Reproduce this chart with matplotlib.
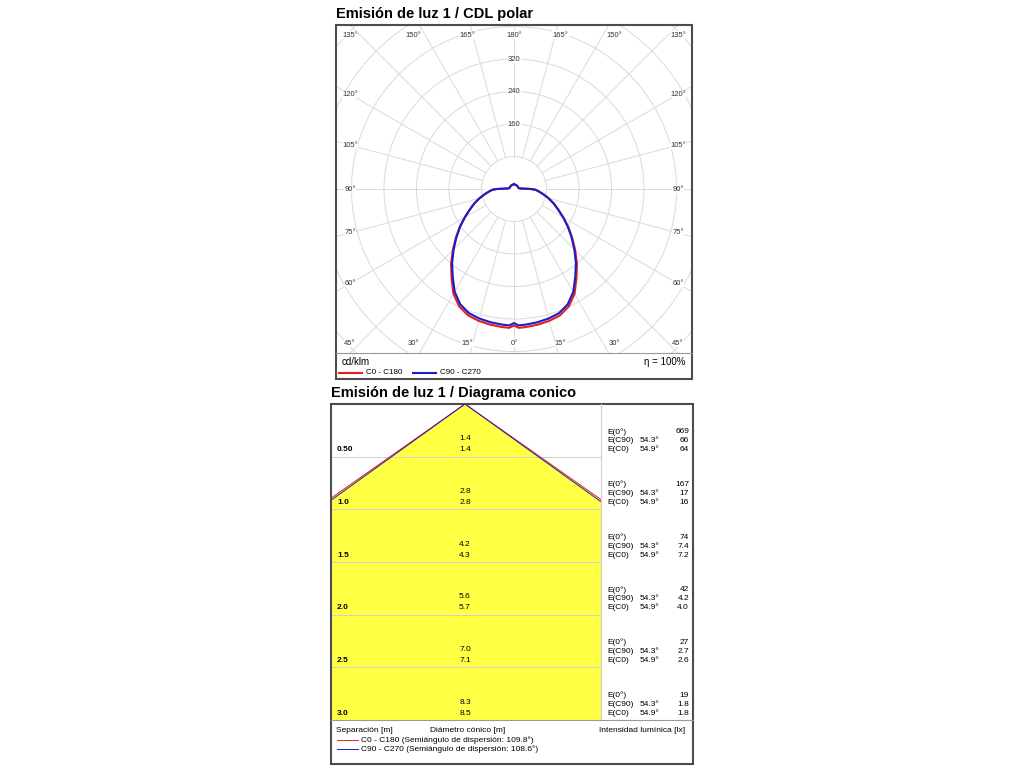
import numpy as np
import matplotlib
matplotlib.use("Agg")
import matplotlib.pyplot as plt
from matplotlib.lines import Line2D
from matplotlib.patches import Rectangle, Circle, Polygon

plt.rcParams['font.family'] = ['Liberation Sans', 'DejaVu Sans']

# Light distribution (cd/klm) vs gamma angle, 0 = straight down
gamma = [0, 2, 5, 10, 15, 20, 25, 30, 35, 40, 45, 50, 55, 60, 65, 70, 75, 80,
         85, 88, 90, 92, 95, 100, 110, 120, 135, 150, 165, 180]
c0_c180 = [336, 342, 341, 339, 336, 331, 319, 298, 268, 241, 213, 187, 163, 140,
           120, 104, 88, 73, 60, 53, 42, 25, 15, 12, 11, 11, 11, 11, 11, 12]
c90_c270 = [330, 336, 335, 333, 330, 325, 313, 292, 263, 237, 210, 185, 162, 140,
            120, 104, 88, 73, 60, 53, 42, 25, 15, 12, 11, 11, 11, 11, 11, 12]
ring_labels = [160, 240, 320]
angle_labels = [0, 15, 30, 45, 60, 75, 90, 105, 120, 135, 150, 165, 180]

# Cone diagram
distances = [0.5, 1.0, 1.5, 2.0, 2.5, 3.0]
dist_labels = ["0.50", "1.0", "1.5", "2.0", "2.5", "3.0"]
diam_c90 = ["1.4", "2.8", "4.2", "5.6", "7.0", "8.3"]
diam_c0 = ["1.4", "2.8", "4.3", "5.7", "7.1", "8.5"]
e_0 = ["669", "167", "74", "42", "27", "19"]
e_c90 = ["66", "17", "7.4", "4.2", "2.7", "1.8"]
e_c0 = ["64", "16", "7.2", "4.0", "2.6", "1.8"]
half_c90 = 54.3
half_c0 = 54.9

RED = "#e41e20"
BLUE = "#1c1cc8"
GRID = "#dadada"
FRAME = "#4d4d4d"


def fx(x):
    return x / 1024


def fy(y):
    return 1 - y / 768


fig = plt.figure(figsize=(10.24, 7.68), dpi=100)

# ---------------- polar chart ----------------
K = 80 / 32.5  # cd/klm per pixel
ax = fig.add_axes([fx(336), fy(353), 356 / 1024, 328 / 768])
ax.set_xlim(-178 * K, 178 * K)
ax.set_ylim(-164 * K, 164 * K)
ax.axis("off")

for r in range(80, 800, 80):
    ax.add_patch(Circle((0, 0), r, fill=False, ec=GRID, lw=0.7))
for a in range(0, 360, 15):
    t = np.radians(a)
    ax.plot([80 * np.sin(t), 900 * np.sin(t)], [-80 * np.cos(t), -900 * np.cos(t)],
            color=GRID, lw=0.7)

for r in ring_labels:
    ax.text(0, r, str(r), fontsize=5.5, ha="center", va="center", color="#333333",
            bbox=dict(fc="white", ec="none", pad=0.3))

W, H, YROW = 164 * K, 174 * K, 154 * K
for a in angle_labels:
    for side in ([1] if a in (0, 180) else [-1, 1]):
        t = np.radians(a)
        dx, dy = side * np.sin(t), -np.cos(t)
        s = min(W / abs(dx) if abs(dx) > 1e-9 else 1e9, H / abs(dy) if abs(dy) > 1e-9 else 1e9)
        px, py = dx * s, dy * s
        if abs(py) > YROW:
            py = np.sign(py) * YROW
        ax.text(px, py, f"{a}°", fontsize=5.5, ha="center", va="center", color="#333333",
                bbox=dict(fc="white", ec="none", pad=0.2), clip_on=False)

g = np.radians(np.array(gamma, dtype=float))
for vals, col in ((c0_c180, RED), (c90_c270, BLUE)):
    v = np.array(vals, dtype=float)
    xs = np.concatenate([-(v * np.sin(g))[::-1], v * np.sin(g)])
    ys = np.concatenate([(-v * np.cos(g))[::-1], -v * np.cos(g)])
    ax.plot(xs, ys, color=col, lw=1.5, solid_joinstyle="round")

fig.add_artist(Rectangle((fx(336), fy(379)), 356 / 1024, 354 / 768, transform=fig.transFigure,
                         fill=False, ec=FRAME, lw=1.5))
fig.add_artist(Line2D([fx(336), fx(692)], [fy(353), fy(353)], color="#9a9a9a", lw=0.8))
fig.text(fx(336), fy(14), "Emisión de luz 1 / CDL polar", fontsize=10.5, fontweight="bold", va="center")
fig.text(fx(342), fy(362), "cd/klm", fontsize=7, va="center")
fig.text(fx(685), fy(362), "η = 100%", fontsize=7, va="center", ha="right")
fig.add_artist(Line2D([fx(339), fx(362)], [fy(373), fy(373)], color=RED, lw=1.5))
fig.text(fx(366), fy(373), "C0 - C180", fontsize=5.8, va="center")
fig.add_artist(Line2D([fx(413), fx(436)], [fy(373), fy(373)], color=BLUE, lw=1.5))
fig.text(fx(440), fy(373), "C90 - C270", fontsize=5.8, va="center")

# ---------------- cone diagram ----------------
PXM = 316 / 3.0  # pixels per metre
axc = fig.add_axes([fx(331), fy(720), 270 / 1024, 316 / 768])
axc.set_xlim((331 - 465) / PXM, (601 - 465) / PXM)
axc.set_ylim(3.0, 0)
axc.axis("off")

tc0 = np.tan(np.radians(half_c0))
tc90 = np.tan(np.radians(half_c90))
axc.add_patch(Polygon([(0, 0), (-3 * tc0, 3), (3 * tc0, 3)], closed=True, fc="#ffff44", ec="none"))
for d in distances:
    axc.axhline(d, color="#cfcfcf", lw=0.7)
axc.plot([-3 * tc0, 0, 3 * tc0], [3, 0, 3], color=RED, lw=0.7)
axc.plot([-3 * tc90, 0, 3 * tc90], [3, 0, 3], color=BLUE, lw=0.7)

for d, lab, a90, a0 in zip(distances, dist_labels, diam_c90, diam_c0):
    axc.text((337 - 465) / PXM, d - 0.064, lab, fontsize=6, fontweight="bold", va="center")
    axc.text(0, d - 0.170, a90, fontsize=6, ha="center", va="center")
    axc.text(0, d - 0.064, a0, fontsize=6, ha="center", va="center")

axt = fig.add_axes([fx(601), fy(720), 92 / 1024, 316 / 768])
axt.set_xlim(0, 92)
axt.set_ylim(3.0, 0)
axt.axis("off")
for d, v0, v90, vc0 in zip(distances, e_0, e_c90, e_c0):
    rows = [("E(0°)", "", v0, d - 0.235), ("E(C90)", f"{half_c90}°", v90, d - 0.150),
            ("E(C0)", f"{half_c0}°", vc0, d - 0.064)]
    for name, ang, val, yy in rows:
        axt.text(6, yy, name, fontsize=6, va="center")
        axt.text(39, yy, ang, fontsize=6, va="center")
        axt.text(88, yy, val, fontsize=6, va="center", ha="right")

fig.add_artist(Line2D([fx(601), fx(601)], [fy(404), fy(720)], color="#cfcfcf", lw=0.8))
fig.add_artist(Line2D([fx(331), fx(693)], [fy(720), fy(720)], color="#9a9a9a", lw=0.8))
fig.add_artist(Rectangle((fx(331), fy(764)), 362 / 1024, 360 / 768, transform=fig.transFigure,
                         fill=False, ec=FRAME, lw=1.5))
fig.text(fx(331), fy(393), "Emisión de luz 1 / Diagrama conico", fontsize=10.5, fontweight="bold",
         va="center")
fig.text(fx(336), fy(730), "Separación [m]", fontsize=6, va="center")
fig.text(fx(430), fy(730), "Diámetro cónico [m]", fontsize=6, va="center")
fig.text(fx(685), fy(730), "Intensidad lumínica [lx]", fontsize=6, va="center", ha="right")
fig.add_artist(Line2D([fx(337), fx(358)], [fy(740), fy(740)], color=RED, lw=0.7))
fig.text(fx(361), fy(740), "C0 - C180 (Semiángulo de dispersión: 109.8°)", fontsize=6, va="center")
fig.add_artist(Line2D([fx(337), fx(358)], [fy(749), fy(749)], color=BLUE, lw=0.7))
fig.text(fx(361), fy(749), "C90 - C270 (Semiángulo de dispersión: 108.6°)", fontsize=6, va="center")

fig.savefig("out.png", dpi=100, facecolor="white")
